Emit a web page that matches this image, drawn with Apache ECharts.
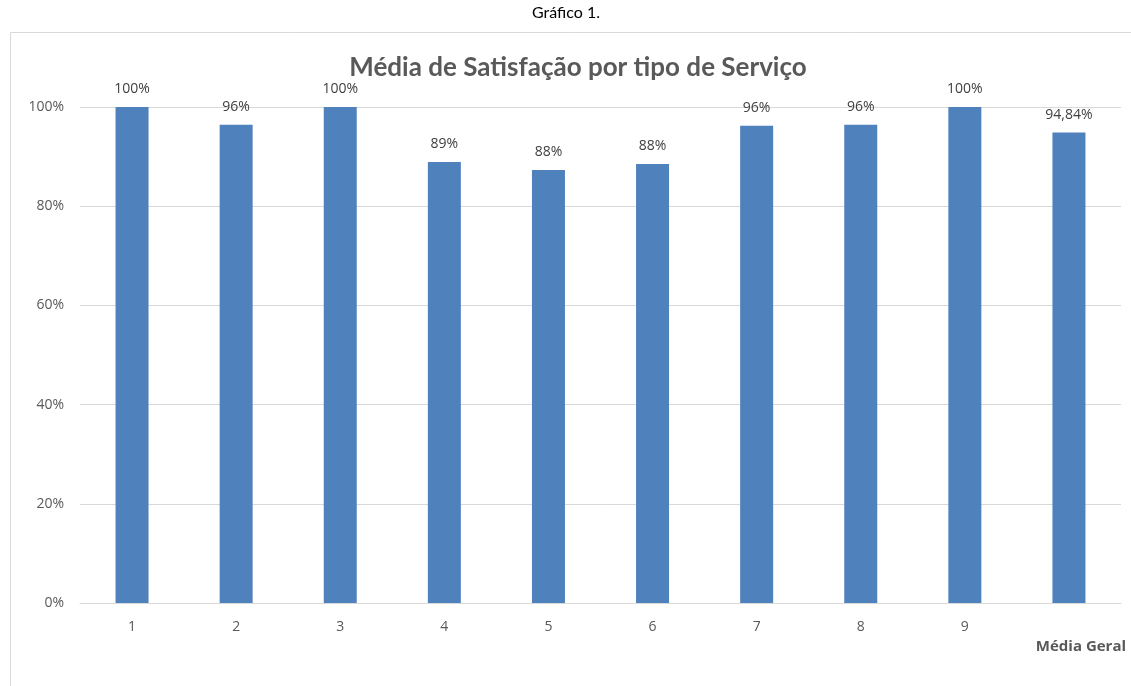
<!DOCTYPE html>
<html>
<head>
<meta charset="utf-8">
<script src="https://cdn.jsdelivr.net/npm/echarts@6/dist/echarts.min.js"></script>
<style>
  html, body { margin: 0; padding: 0; background: #fff; }
  #chart { width: 1131px; height: 686px; }
</style>
</head>
<body>
<div id="chart"></div>
<script>
const categories = ["1", "2", "3", "4", "5", "6", "7", "8", "9", "Média Geral"];
const satisfaction = [100, 96.4, 100, 88.9, 87.3, 88.5, 96.2, 96.4, 100, 94.84];
const valueLabels = ["100%", "96%", "100%", "89%", "88%", "88%", "96%", "96%", "100%", "94,84%"];

const font = "'Open Sans', sans-serif";
const titleFont = "Lato, 'Open Sans', sans-serif";
const chart = echarts.init(document.getElementById("chart"));

const option = {
  animation: false,
  textStyle: { fontFamily: font },
  title: [
    {
      text: "Gráfico 1.",
      left: 561,
      top: 0,
      textAlign: "center",
      textStyle: { fontSize: 16, fontWeight: "normal", color: "#000", fontFamily: titleFont },
    },
    {
      text: "Média de Satisfação por tipo de Serviço",
      left: 573,
      top: 50,
      textAlign: "center",
      textStyle: { fontSize: 26, fontWeight: "bold", color: "#595959", fontFamily: titleFont },
    },
  ],
  graphic: [
    {
      type: "rect",
      shape: { x: 10.5, y: 32.5, width: 1130, height: 670 },
      style: { fill: "none", stroke: "#d9d9d9", lineWidth: 1 },
      silent: true,
    },
  ],
  grid: { left: 80, right: 10, top: 107, bottom: 83, containLabel: false },
  xAxis: {
    type: "category",
    data: categories,
    axisLine: { lineStyle: { color: "#d9d9d9" } },
    axisTick: { show: false },
    axisLabel: {
      color: "#595959",
      fontSize: 14,
      margin: 17,
      interval: 0,
      formatter: (v) => (v === "Média Geral" ? "{b|" + v + "}" : v),
      rich: {
        b: { fontSize: 15, fontWeight: "bold", color: "#595959", fontFamily: font, padding: [19, 0, 0, 24] },
      },
    },
  },
  yAxis: {
    type: "value",
    min: 0,
    max: 100,
    interval: 20,
    axisLine: { show: false },
    axisTick: { show: false },
    splitLine: { lineStyle: { color: "#d9d9d9" } },
    axisLabel: { color: "#595959", fontSize: 14, margin: 16, formatter: "{value}%" },
  },
  series: [
    {
      type: "bar",
      data: satisfaction,
      barWidth: 33,
      itemStyle: { color: "#4f81bd" },
      label: {
        show: true,
        position: "top",
        distance: 11,
        color: "#404040",
        fontSize: 14,
        formatter: (p) => valueLabels[p.dataIndex],
      },
    },
  ],
};

chart.setOption(option);
</script>
</body>
</html>
